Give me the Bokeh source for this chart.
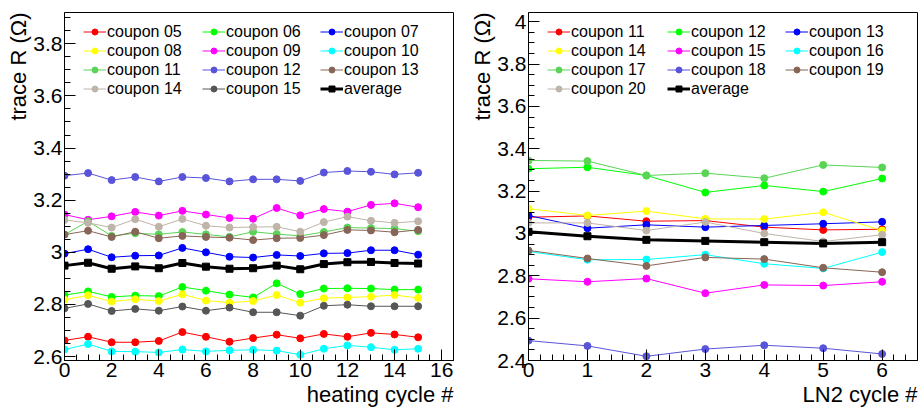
from bokeh.plotting import figure
from bokeh.layouts import row
from bokeh.models import Range1d, FixedTicker, Legend, LegendItem, Title
from bokeh.embed import file_html
from bokeh.resources import INLINE

FONT = "Liberation Sans"

# ---------------- left panel data (heating cycles) ----------------
heat_cycles = list(range(16))
heat_labels = ["coupon 05", "coupon 06", "coupon 07", "coupon 08", "coupon 09",
               "coupon 10", "coupon 11", "coupon 12", "coupon 13", "coupon 14",
               "coupon 15"]
h05 = [2.662, 2.676, 2.655, 2.655, 2.660, 2.694, 2.676, 2.657, 2.671, 2.684, 2.670, 2.687, 2.676, 2.691, 2.685, 2.674]
h06 = [2.836, 2.850, 2.829, 2.834, 2.832, 2.867, 2.853, 2.838, 2.827, 2.881, 2.840, 2.861, 2.862, 2.861, 2.857, 2.857]
h07 = [2.995, 3.012, 2.981, 2.987, 2.988, 3.017, 3.000, 2.983, 2.980, 2.990, 2.986, 2.996, 2.997, 3.008, 3.008, 2.991]
h08 = [2.818, 2.835, 2.811, 2.820, 2.813, 2.839, 2.815, 2.807, 2.813, 2.836, 2.807, 2.824, 2.827, 2.830, 2.836, 2.825]
h09 = [3.145, 3.125, 3.138, 3.155, 3.141, 3.159, 3.145, 3.132, 3.129, 3.170, 3.142, 3.166, 3.156, 3.182, 3.188, 3.173]
h10 = [2.627, 2.648, 2.620, 2.619, 2.616, 2.627, 2.620, 2.624, 2.626, 2.623, 2.607, 2.630, 2.643, 2.636, 2.626, 2.630]
h11 = [3.068, 3.119, 3.063, 3.073, 3.069, 3.078, 3.069, 3.059, 3.079, 3.070, 3.063, 3.078, 3.095, 3.093, 3.091, 3.081]
h12 = [3.294, 3.304, 3.277, 3.289, 3.272, 3.289, 3.285, 3.272, 3.280, 3.280, 3.274, 3.306, 3.312, 3.309, 3.299, 3.305]
h13 = [3.068, 3.083, 3.059, 3.079, 3.054, 3.063, 3.059, 3.056, 3.047, 3.054, 3.055, 3.066, 3.086, 3.084, 3.077, 3.086]
h14 = [3.124, 3.113, 3.095, 3.127, 3.098, 3.128, 3.102, 3.095, 3.097, 3.098, 3.079, 3.116, 3.137, 3.121, 3.113, 3.119]
h15 = [2.785, 2.802, 2.775, 2.783, 2.776, 2.792, 2.776, 2.788, 2.770, 2.770, 2.757, 2.795, 2.799, 2.793, 2.793, 2.793]
heat_avg = [2.949, 2.960, 2.937, 2.946, 2.939, 2.959, 2.945, 2.937, 2.939, 2.949, 2.935, 2.955, 2.962, 2.963, 2.959, 2.957]
heat_series = [h05, h06, h07, h08, h09, h10, h11, h12, h13, h14, h15]

# ---------------- right panel data (LN2 cycles) ----------------
ln2_cycles = list(range(7))
ln2_labels = ["coupon 11", "coupon 12", "coupon 13", "coupon 14", "coupon 15",
              "coupon 16", "coupon 17", "coupon 18", "coupon 19", "coupon 20"]
n11 = [3.077, 3.083, 3.058, 3.061, 3.030, 3.017, 3.020]
n12 = [3.306, 3.313, 3.274, 3.194, 3.227, 3.198, 3.260]
n13 = [3.085, 3.025, 3.041, 3.030, 3.038, 3.046, 3.055]
n14 = [3.117, 3.085, 3.106, 3.069, 3.068, 3.100, 3.014]
n15 = [2.786, 2.772, 2.787, 2.718, 2.757, 2.754, 2.772]
n16 = [2.915, 2.876, 2.877, 2.900, 2.857, 2.835, 2.912]
n17 = [3.345, 3.342, 3.274, 3.285, 3.261, 3.324, 3.312]
n18 = [2.494, 2.469, 2.420, 2.454, 2.472, 2.458, 2.431]
n19 = [2.920, 2.882, 2.847, 2.887, 2.879, 2.838, 2.817]
n20 = [3.050, 3.050, 3.014, 3.054, 3.000, 2.962, 2.994]
ln2_avg = [3.008, 2.987, 2.970, 2.965, 2.959, 2.953, 2.959]
ln2_series = [n11, n12, n13, n14, n15, n16, n17, n18, n19, n20]

# ROOT-like colour sequence
colors = ["#ff0000", "#00ff00", "#0000ff", "#ffff00", "#ff00ff", "#00ffff",
          "#59d454", "#5954d9", "#876657", "#bfb4a8", "#565656"]

# tick values / labels
heat_xticks = [0, 2, 4, 6, 8, 10, 12, 14, 16]
heat_yticks = [2.6, 2.8, 3.0, 3.2, 3.4, 3.6, 3.8]
heat_ylabels = ["2.6", "2.8", "3", "3.2", "3.4", "3.6", "3.8"]
ln2_xticks = [0, 1, 2, 3, 4, 5, 6]
ln2_yticks = [2.4, 2.6, 2.8, 3.0, 3.2, 3.4, 3.6, 3.8, 4.0]
ln2_ylabels = ["2.4", "2.6", "2.8", "3", "3.2", "3.4", "3.6", "3.8", "4"]
y_title = "trace R (\u03a9)"


def style_axis(ax, ticks, minor, labels=None):
    ax.ticker = FixedTicker(ticks=ticks, minor_ticks=minor)
    if labels is not None:
        ax.major_label_overrides = {t: l for t, l in zip(ticks, labels)}
    ax.major_tick_in = 11
    ax.major_tick_out = 0
    ax.minor_tick_in = 6
    ax.minor_tick_out = 0
    ax.major_tick_line_color = "black"
    ax.minor_tick_line_color = "black"
    ax.axis_line_color = "black"
    ax.major_label_text_font = FONT
    ax.major_label_text_font_size = "21px"
    ax.major_label_text_color = "black"
    ax.major_label_standoff = 2


def panel(xs, series, labels, avg, xr, yr, xticks, xminor, yticks, ylabels, yminor,
          xtitle, width, border_left, border_right, col_x):
    p = figure(width=width, height=408, x_range=Range1d(*xr), y_range=Range1d(*yr),
               output_backend="svg", toolbar_location=None,
               min_border_left=border_left, min_border_right=border_right,
               min_border_top=12, min_border_bottom=48)
    p.grid.visible = False
    p.outline_line_color = "black"
    p.outline_line_width = 1
    p.background_fill_color = "white"
    p.border_fill_color = "white"
    style_axis(p.xaxis[0], xticks, xminor)
    style_axis(p.yaxis[0], yticks, yminor, ylabels)

    items = []
    for vals, lab, col in zip(series, labels, colors):
        l = p.line(xs, vals, line_color=col, line_width=1)
        s = p.scatter(xs, vals, marker="circle", size=7, fill_color=col, line_color=col)
        items.append(LegendItem(label=lab, renderers=[l, s]))
    la = p.line(xs, avg, line_color="black", line_width=3)
    sa = p.scatter(xs, avg, marker="square", size=7, fill_color="black", line_color="black")
    items.append(LegendItem(label="average", renderers=[la, sa]))

    frame_h = 408 - 12 - 48
    row_h = 19
    top_gap = 10
    for c in range(3):
        col_items = items[c::3]
        leg = Legend(items=col_items,
                     location=(col_x[c], frame_h - top_gap - row_h * len(col_items)),
                     orientation="vertical", padding=0, margin=0, spacing=0,
                     glyph_width=23, glyph_height=15, label_height=row_h,
                     label_standoff=1, label_text_font=FONT,
                     label_text_font_size="16px", label_text_color="black",
                     background_fill_alpha=0, border_line_alpha=0)
        p.add_layout(leg, "center")

    p.add_layout(Title(text=xtitle, align="right", standoff=0, offset=0,
                       text_font=FONT, text_font_size="22px", text_font_style="normal",
                       text_color="black"), "below")
    p.add_layout(Title(text=y_title, align="right", standoff=0, offset=0,
                       text_font=FONT, text_font_size="22px", text_font_style="normal",
                       text_color="black"), "left")
    return p


heat_xminor = [i * 0.5 for i in range(34)]
heat_yminor = [round(2.55 + 0.05 * i, 2) for i in range(29)]
ln2_xminor = [round(i * 0.2, 2) for i in range(34)]
ln2_yminor = [round(2.4 + 0.05 * i, 2) for i in range(34)]

p1 = panel(heat_cycles, heat_series, heat_labels, heat_avg, (0, 16.5), (2.585, 3.92),
           heat_xticks, heat_xminor, heat_yticks, heat_ylabels, heat_yminor,
           "heating cycle #", 460, 64, 7, [19, 138, 256])
p2 = panel(ln2_cycles, ln2_series, ln2_labels, ln2_avg, (0, 6.6), (2.4, 4.044),
           ln2_xticks, ln2_xminor, ln2_yticks, ln2_ylabels, ln2_yminor,
           "LN2 cycle #", 460, 68, 3, [19, 139, 257])

layout = row(p1, p2)
open("out.html", "w").write(file_html(layout, INLINE))
